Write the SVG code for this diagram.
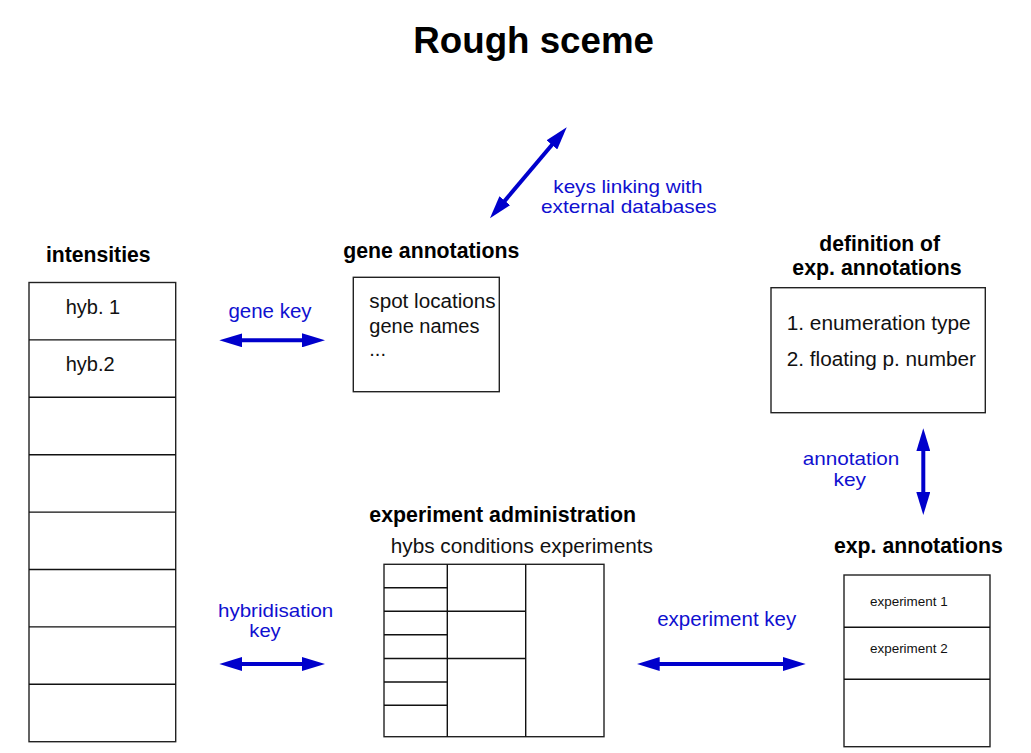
<svg xmlns="http://www.w3.org/2000/svg" width="1031" height="753" viewBox="0 0 1031 753">
<style>
  .title{font-family:"Liberation Sans",Arial,sans-serif;font-weight:bold;font-size:36.5px;fill:#000}
  .head{font-family:"Liberation Sans",Arial,sans-serif;font-weight:bold;font-size:22.5px;fill:#000}
  .txt{font-family:"Liberation Sans",Arial,sans-serif;font-size:20px;fill:#111}
  .small{font-family:"Liberation Sans",Arial,sans-serif;font-size:13px;fill:#111}
  .lbl{font-family:"Liberation Sans",Arial,sans-serif;font-size:20.5px;fill:#1010d0}
  .lbl2{font-family:"Liberation Sans",Arial,sans-serif;font-size:18.5px;fill:#1010d0}
  .box{fill:#fff;stroke:#222;stroke-width:1.4}
  .ln{stroke:#111;stroke-width:1.4;fill:none}
  .arr{stroke:#0000cc;stroke-width:4;fill:none;marker-start:url(#ah);marker-end:url(#ah)}
</style>
<defs>
  <marker id="ah" viewBox="0 0 23 14" refX="11" refY="7" markerWidth="23" markerHeight="14" markerUnits="userSpaceOnUse" orient="auto-start-reverse">
    <path d="M0,0 L23,7 L0,14 z" fill="#0000cc"/>
  </marker>
</defs>
<rect width="1031" height="753" fill="#fff"/>
<text class="title" x="413.3" y="53.3" textLength="240.7" lengthAdjust="spacingAndGlyphs">Rough sceme</text>

<g id="intensities">
  <text class="head" x="46" y="261.5" textLength="104.5" lengthAdjust="spacingAndGlyphs">intensities</text>
  <rect class="box" x="29" y="282.5" width="146.7" height="459.2"/>
  <path class="ln" d="M29,339.9H175.7M29,397.3H175.7M29,454.7H175.7M29,512.1H175.7M29,569.5H175.7M29,626.9H175.7M29,684.3H175.7"/>
  <text class="txt" x="65.7" y="313.5">hyb. 1</text>
  <text class="txt" x="65.7" y="370.5">hyb.2</text>
</g>

<g id="gene-annotations">
  <text class="head" x="343.3" y="258.3" textLength="176" lengthAdjust="spacingAndGlyphs">gene annotations</text>
  <rect class="box" x="353.3" y="277.3" width="146" height="114.4"/>
  <text class="txt" x="369.3" y="308" textLength="126.4" lengthAdjust="spacingAndGlyphs">spot locations</text>
  <text class="txt" x="369.3" y="333.3">gene names</text>
  <text class="txt" x="369.3" y="356">...</text>
</g>

<g id="definition-exp-annotations">
  <text class="head" x="819.3" y="250.7" textLength="120.7" lengthAdjust="spacingAndGlyphs">definition of</text>
  <text class="head" x="792.3" y="275" textLength="169.4" lengthAdjust="spacingAndGlyphs">exp. annotations</text>
  <rect class="box" x="771" y="287.7" width="214.3" height="125"/>
  <text class="txt" x="786.7" y="330" textLength="184" lengthAdjust="spacingAndGlyphs">1. enumeration type</text>
  <text class="txt" x="786.7" y="365.7" textLength="189.3" lengthAdjust="spacingAndGlyphs">2. floating p. number</text>
</g>

<g id="experiment-administration">
  <text class="head" x="369.3" y="521.7" textLength="266.7" lengthAdjust="spacingAndGlyphs">experiment administration</text>
  <text class="txt" x="390.7" y="553.3" textLength="262.3" lengthAdjust="spacingAndGlyphs">hybs conditions experiments</text>
  <rect class="box" x="384" y="564.3" width="220" height="172.4"/>
  <path class="ln" d="M447.3,564.3V736.7M525.7,564.3V736.7M384,587.8H447.3M384,611.3H525.7M384,634.8H447.3M384,658.5H525.7M384,682H447.3M384,705.3H447.3"/>
</g>

<g id="exp-annotations">
  <text class="head" x="834" y="553.3" textLength="168.7" lengthAdjust="spacingAndGlyphs">exp. annotations</text>
  <rect class="box" x="844" y="575" width="146" height="171.7"/>
  <path class="ln" d="M844,627.3H990M844,679.3H990"/>
  <text class="small" x="870" y="606" textLength="77.7" lengthAdjust="spacingAndGlyphs">experiment 1</text>
  <text class="small" x="870" y="652.7" textLength="77.7" lengthAdjust="spacingAndGlyphs">experiment 2</text>
</g>

<g id="connectors">
  <line class="arr" x1="497.7" y1="209.1" x2="559" y2="136.5"/>
  <text class="lbl2" x="553.3" y="193.3" textLength="149.3" lengthAdjust="spacingAndGlyphs">keys linking with</text>
  <text class="lbl2" x="541" y="212.7" textLength="175.7" lengthAdjust="spacingAndGlyphs">external databases</text>

  <line class="arr" x1="231.3" y1="340.3" x2="313" y2="340.3"/>
  <text class="lbl" x="270" y="318.3" text-anchor="middle">gene key</text>

  <line class="arr" x1="923.3" y1="440.3" x2="923.3" y2="503"/>
  <text class="lbl2" x="802.7" y="465" textLength="96.6" lengthAdjust="spacingAndGlyphs">annotation</text>
  <text class="lbl2" x="833.5" y="485.5" textLength="32.5" lengthAdjust="spacingAndGlyphs">key</text>

  <line class="arr" x1="231.3" y1="664" x2="313" y2="664"/>
  <text class="lbl2" x="218" y="616.7" textLength="115.3" lengthAdjust="spacingAndGlyphs">hybridisation</text>
  <text class="lbl2" x="249.3" y="636.7" textLength="31.4" lengthAdjust="spacingAndGlyphs">key</text>

  <line class="arr" x1="648.7" y1="664" x2="793.7" y2="664"/>
  <text class="lbl" x="726.7" y="626" text-anchor="middle">experiment key</text>
</g>
</svg>
